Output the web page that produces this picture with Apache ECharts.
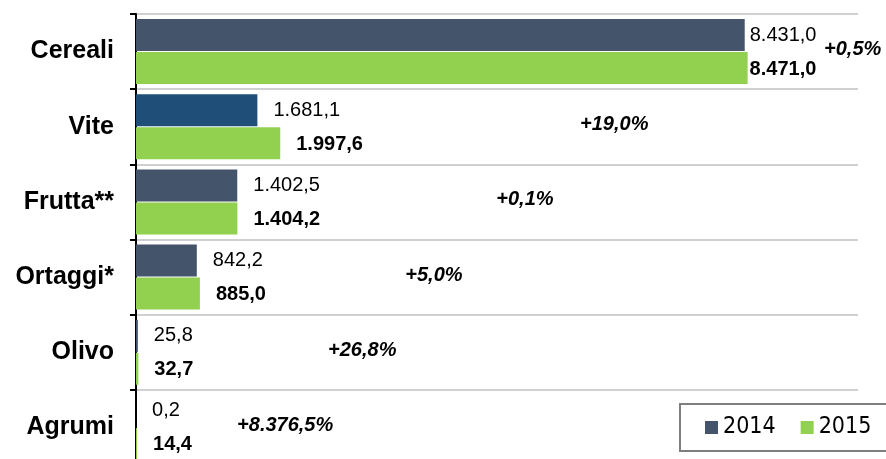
<!DOCTYPE html>
<html>
<head>
<meta charset="utf-8">
<script src="https://cdn.jsdelivr.net/npm/echarts@6/dist/echarts.min.js"></script>
<style>
    html, body {margin: 0; padding: 0; background: #fff;}
    #chart {width: 886px; height: 459px;}
</style>
</head>
<body>
<div id="chart"></div>
<script>
    // dati
    var categories = ['Cereali', 'Vite', 'Frutta**', 'Ortaggi*', 'Olivo', 'Agrumi'];
    var values2014 = [8431.0, 1681.1, 1402.5, 842.2, 25.8, 0.2];
    var values2015 = [8471.0, 1997.6, 1404.2, 885.0, 32.7, 14.4];
    var pctChange = ['+0,5%', '+19,0%', '+0,1%', '+5,0%', '+26,8%', '+8.376,5%'];
    // dove stanno le etichette delle variazioni (in unita dell'asse x)
    var pctAnchorX = [9530, 6150, 4990, 3730, 2660, 1400];

    var FONT = '"Liberation Sans", Arial, sans-serif';

    // 8431 -> "8.431,0"
    function fmt(v) {
        var parts = v.toFixed(1).split('.');
        parts[0] = parts[0].replace(/\B(?=(\d{3})+(?!\d))/g, '.');
        return parts[0] + ',' + parts[1];
    }

    var myChart = echarts.init(document.getElementById('chart'));
    myChart.setOption({
        animation: false,
        grid: {left: 136, right: 28, top: 14, height: 451, outerBoundsMode: 'none'},
        legend: {
            data: ['2014', '2015'],
            left: 680,
            top: 404,
            width: 200,
            padding: [12, 25, 12, 25],
            borderColor: '#7f7f7f',
            borderWidth: 2,
            itemGap: 25,
            itemWidth: 13,
            itemHeight: 13,
            icon: 'rect',
            textStyle: {fontSize: 23, color: '#000', fontFamily: '"DejaVu Sans Condensed", "DejaVu Sans", sans-serif'}
        },
        xAxis: {
            type: 'value',
            min: 0,
            max: 10000,
            show: false
        },
        yAxis: {
            type: 'category',
            inverse: true,
            data: categories,
            axisLine: {lineStyle: {color: '#000', width: 2}},
            axisTick: {show: true, length: 6, lineStyle: {color: '#000', width: 2}},
            axisLabel: {fontSize: 25, fontWeight: 'bold', color: '#000', fontFamily: FONT, margin: 22},
            splitLine: {show: true, lineStyle: {color: '#c0c0c0', width: 1.5}}
        },
        series: [
            {
                name: '2014',
                type: 'bar',
                barWidth: 32,
                barGap: '3%',
                itemStyle: {color: '#44546a'},
                label: {
                    show: true, position: 'right', distance: 16,
                    fontSize: 20, color: '#000', fontFamily: FONT,
                    formatter: function (p) { return fmt(p.value); }
                },
                data: values2014.map(function (v, i) {
                    var d = {value: v};
                    if (i === 0) d.label = {distance: 5};
                    if (i === 1) d.itemStyle = {color: '#1f4e79'};
                    return d;
                })
            },
            {
                name: '2015',
                type: 'bar',
                barWidth: 32,
                itemStyle: {color: '#92d050'},
                label: {
                    show: true, position: 'right', distance: 16,
                    fontSize: 20, fontWeight: 'bold', color: '#000', fontFamily: FONT,
                    offset: [0, 1],
                    formatter: function (p) { return fmt(p.value); }
                },
                data: values2015.map(function (v, i) {
                    return i === 0 ? {value: v, label: {distance: 2}} : v;
                })
            },
            {
                name: 'variazione',
                type: 'scatter',
                symbolSize: 0,
                silent: true,
                itemStyle: {opacity: 1},
                label: {
                    show: true, position: 'right', distance: 0,
                    fontSize: 20, fontWeight: 'bold', fontStyle: 'italic',
                    color: '#000', fontFamily: FONT, offset: [0, -2],
                    formatter: function (p) { return pctChange[p.dataIndex]; }
                },
                data: pctAnchorX.map(function (x, i) { return [x, categories[i]]; })
            }
        ]
    });
</script>
</body>
</html>
